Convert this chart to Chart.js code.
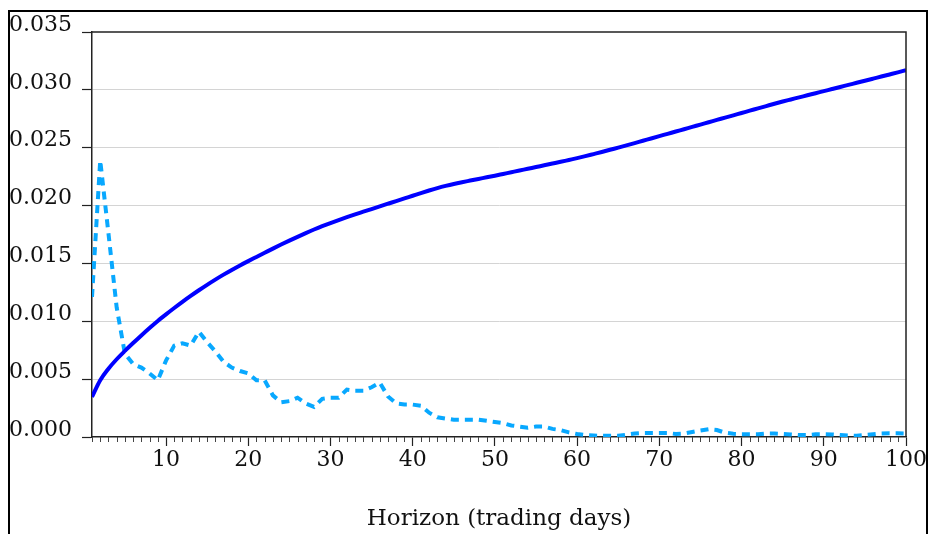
<!DOCTYPE html>
<html><head><meta charset="utf-8">
<script src="https://cdn.jsdelivr.net/npm/chart.js@4"></script>
<style>
html,body{margin:0;padding:0;background:#fff;}
#wrap{position:relative;width:928px;height:534px;overflow:hidden;}
#frame{position:absolute;left:8px;top:10px;width:916px;height:600px;border:2px solid #000;}
canvas{position:absolute;left:0;top:0;}
</style></head><body>
<div id="wrap"><div id="frame"></div><canvas id="c" width="928" height="534"></canvas></div>
<script>
const days = [1,2,3,4,5,6,7,8,9,10,11,12,13,14,15,16,17,18,19,20,21,22,23,24,25,26,27,28,29,30,31,32,33,34,35,36,37,38,39,40,41,42,43,44,45,46,47,48,49,50,51,52,53,54,55,56,57,58,59,60,61,62,63,64,65,66,67,68,69,70,71,72,73,74,75,76,77,78,79,80,81,82,83,84,85,86,87,88,89,90,91,92,93,94,95,96,97,98,99,100];

const solidSeries = [0.00346,0.00490,0.00590,0.00672,0.00744,0.00812,0.00878,0.00942,0.01003,0.01060,
0.01115,0.01168,0.01219,0.01268,0.01315,0.01360,0.01403,0.01444,0.01483,0.01520,
0.01556,0.01592,0.01628,0.01663,0.01697,0.01730,0.01762,0.01793,0.01822,0.01849,
0.01875,0.01900,0.01924,0.01947,0.01970,0.01993,0.02016,0.02039,0.02062,0.02085,
0.02108,0.02130,0.02151,0.02170,0.02187,0.02202,0.02216,0.02230,0.02244,0.02258,
0.02273,0.02288,0.02303,0.02318,0.02333,0.02348,0.02363,0.02378,0.02394,0.02410,
0.02427,0.02445,0.02463,0.02482,0.02501,0.02520,0.02540,0.02560,0.02580,0.02600,
0.02620,0.02640,0.02660,0.02680,0.02700,0.02720,0.02740,0.02760,0.02780,0.02800,
0.02820,0.02840,0.02860,0.02880,0.02899,0.02917,0.02935,0.02953,0.02971,0.02989,
0.03007,0.03025,0.03043,0.03061,0.03079,0.03097,0.03115,0.03133,0.03151,0.03170];

const dottedSeries = [0.0121,0.0239,0.0176,0.0112,0.0072,0.0063,0.0060,0.0055,0.0049,0.0066,
0.0079,0.0081,0.0079,0.0091,0.0082,0.0074,0.0065,0.0060,0.0057,0.0055,
0.0049,0.0049,0.0036,0.0030,0.0031,0.0034,0.0029,0.0026,0.0033,0.0034,
0.0034,0.0041,0.0040,0.0040,0.0043,0.0047,0.0035,0.0029,0.0028,0.0028,
0.0027,0.0021,0.0017,0.0016,0.0015,0.0015,0.0015,0.0015,0.0014,0.0013,
0.0012,0.0010,0.0009,0.0008,0.0009,0.0009,0.0007,0.0006,0.0004,0.00026,
0.00017,0.00013,0.0001,0.0001,0.0001,0.0002,0.0003,0.00035,0.00035,0.00035,
0.00035,0.00026,0.0003,0.00043,0.00056,0.00067,0.0006,0.00037,0.00028,0.00023,
0.00023,0.00023,0.0003,0.0003,0.00026,0.00022,0.00017,0.00017,0.00023,0.00023,
0.00022,0.00017,0.00013,0.00011,0.00017,0.00023,0.0003,0.00032,0.00032,0.0003];

const yTickStep = 0.005;
const yMax = 0.035;
const xTitle = 'Horizon (trading days)';
const FONT = 'DejaVu Serif';

const framePlugin = {
  id: 'frameTicks',
  afterDraw(chart) {
    const ctx = chart.ctx;
    const a = chart.chartArea;
    const xs = chart.scales.x;
    ctx.save();
    ctx.strokeStyle = '#444';
    ctx.lineWidth = 1;
    days.forEach(d => {
      if (d % 10 === 0) return;
      const px = Math.round(xs.getPixelForValue(d)) + 0.5;
      ctx.beginPath();
      ctx.moveTo(px, a.bottom);
      ctx.lineTo(px, a.bottom + 5);
      ctx.stroke();
    });
    ctx.strokeStyle = '#222';
    ctx.lineWidth = 1.5;
    ctx.beginPath();
    ctx.moveTo(a.left, a.top);
    ctx.lineTo(a.right, a.top);
    ctx.lineTo(a.right, a.bottom);
    ctx.stroke();
    ctx.restore();
  }
};

new Chart(document.getElementById('c'), {
  type: 'line',
  data: {
    datasets: [
      {
        data: days.map((d, i) => ({x: d, y: solidSeries[i]})),
        borderColor: '#0000ff',
        borderWidth: 4,
        pointRadius: 0,
        cubicInterpolationMode: 'monotone',
        fill: false
      },
      {
        data: days.map((d, i) => ({x: d, y: dottedSeries[i]})),
        borderColor: '#08a8ff',
        borderWidth: 4,
        borderDash: [8, 6],
        pointRadius: 0,
        tension: 0,
        fill: false
      }
    ]
  },
  options: {
    responsive: false,
    animation: false,
    devicePixelRatio: 1,
    layout: {padding: {left: 9, top: 32, right: 20, bottom: 0}},
    plugins: {legend: {display: false}, tooltip: {enabled: false}},
    scales: {
      x: {
        type: 'linear',
        min: 1, max: 100,
        afterFit(s) { s.height = 97; },
        border: {display: true, color: '#222', width: 1.5},
        grid: {
          drawOnChartArea: false,
          drawTicks: true,
          tickLength: 9,
          tickColor: c => (c.tick && c.tick.value % 10 === 0) ? '#222' : 'rgba(0,0,0,0)',
          tickWidth: 1.2
        },
        ticks: {
          stepSize: 1,
          autoSkip: false,
          maxRotation: 0,
          padding: 1,
          color: '#111',
          font: {family: FONT, size: 22},
          callback: v => (v % 10 === 0 ? String(v) : '')
        },
        title: {
          display: true,
          text: xTitle,
          color: '#111',
          font: {family: FONT, size: 23},
          padding: {top: 0, bottom: 1}
        }
      },
      y: {
        min: 0, max: yMax,
        afterFit(s) { s.width = 83; },
        border: {display: true, color: '#222', width: 1.5},
        grid: {
          color: c => (c.tick && (c.tick.value <= 0 || c.tick.value >= yMax - 1e-9)) ? 'rgba(0,0,0,0)' : '#d4d4d4',
          lineWidth: 1,
          tickLength: 10,
          tickColor: '#222',
          tickWidth: 1.2
        },
        ticks: {
          stepSize: yTickStep,
          crossAlign: 'far',
          labelOffset: -7,
          color: '#111',
          font: {family: FONT, size: 22},
          callback: v => Number(v).toFixed(3)
        }
      }
    }
  },
  plugins: [framePlugin]
});
</script>
</body></html>
